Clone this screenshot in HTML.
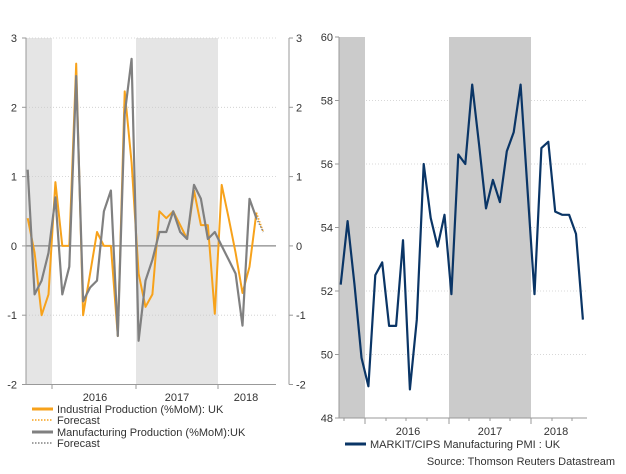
<!DOCTYPE html>
<html><head><meta charset="utf-8"><style>
body{margin:0;background:#fff;font-family:"Liberation Sans",Arial,sans-serif;}
svg text{font-family:"Liberation Sans",Arial,sans-serif;font-size:11px;fill:#333;}
</style></head><body>
<svg id="c" width="626" height="469" xmlns="http://www.w3.org/2000/svg"></svg>
<script>
const ipValues=[0.4,-0.1,-1.0,-0.7,0.92,0,0,2.63,-1.0,-0.4,0.2,0,0,-1.3,2.23,1.2,-0.4,-0.88,-0.7,0.5,0.4,0.5,0.3,0.1,0.8,0.3,0.3,-0.98,0.88,0.4,-0.1,-0.68,-0.3,0.48];
const ipForecast=[0.48,0.2];
const mpValues=[1.1,-0.7,-0.5,-0.1,0.7,-0.7,-0.3,2.45,-0.8,-0.6,-0.5,0.5,0.8,-1.3,1.9,2.7,-1.37,-0.5,-0.2,0.2,0.2,0.5,0.2,0.1,0.88,0.68,0.1,0.2,0.0,-0.2,-0.4,-1.15,0.68,0.4];
const mpForecast=[0.4,0.2];
const pmiValues=[52.2,54.2,52.2,49.9,49.0,52.5,52.9,50.9,50.9,53.6,48.9,51.1,56.0,54.3,53.4,54.4,51.9,56.3,56.0,58.5,56.6,54.6,55.5,54.8,56.4,57.0,58.5,55.2,51.9,56.5,56.7,54.5,54.4,54.4,53.8,51.1];
const leftTicks=[3,2,1,0,-1,-2];
const rightTicks=[60,58,56,54,52,50,48];
const yearLabels=["2016","2017","2018"];

const svg=document.getElementById('c');
const NS='http://www.w3.org/2000/svg';
function el(t,a,p){const e=document.createElementNS(NS,t);for(const k in a)e.setAttribute(k,a[k]);(p||svg).appendChild(e);return e;}

// left chart scales
const lx=i=>27.7+i*6.93, ly=v=>384.5-(v+2)/5*346.5;
// right chart scales
const rx=i=>340.7+i*6.92, ry=v=>418-(v-48)/12*381;

// shading
let s;
s=el('rect',{x:26,y:38,width:26,height:346.5,fill:'#e5e5e5'});
s=el('rect',{x:136,y:38,width:82,height:346.5,fill:'#e5e5e5'});
s=el('rect',{x:339,y:37,width:26,height:381,fill:'#cbcbcb'});
s=el('rect',{x:449,y:37,width:82,height:381,fill:'#cbcbcb'});

// left grid & ticks
leftTicks.forEach(v=>{
  const y=ly(v);
  let g=el('line',{x1:26,x2:276,y1:y,y2:y,stroke:v===0?'#888':'#ccc','stroke-width':v===0?1.2:0.8,'stroke-dasharray':v===0?'':'1,2'});
  
  let t=el('text',{x:17,y:y+4,'text-anchor':'end'});t.textContent=v;
  
  el('line',{x1:22,x2:26,y1:y,y2:y,stroke:'#999'});
  let t2=el('text',{x:296,y:y+4});t2.textContent=v;
  
  el('line',{x1:289,x2:293,y1:y,y2:y,stroke:'#999'});
});
el('line',{x1:26,x2:26,y1:38,y2:384.5,stroke:'#999'});
el('line',{x1:289,x2:289,y1:38,y2:384.5,stroke:'#999'});
el('line',{x1:26,x2:276,y1:384.5,y2:384.5,stroke:'#999'});
[52,136,218].forEach(x=>el('line',{x1:x,x2:x,y1:384.5,y2:389,stroke:'#999'}));
[[95,yearLabels[0]],[177,yearLabels[1]],[246,yearLabels[2]]].forEach(([x,l])=>{let t=el('text',{x:x,y:401,'text-anchor':'middle'});t.textContent=l;});

function poly(vals,xf,yf,off,attrs,name){
  const pts=vals.map((v,i)=>xf(i+off).toFixed(1)+','+yf(v).toFixed(1)).join(' ');
  const p=el('polyline',Object.assign({points:pts,fill:'none','stroke-linejoin':'round'},attrs));
  
}
poly(ipValues,lx,ly,0,{stroke:'#f7a21b','stroke-width':2},'industrial-production-line');
poly(mpValues,lx,ly,0,{stroke:'#808080','stroke-width':2.2},'manufacturing-production-line');
poly(ipForecast,lx,ly,33,{stroke:'#f7a21b','stroke-width':1.5,'stroke-dasharray':'1.5,1.5'},'industrial-production-forecast');
poly(mpForecast,lx,ly,33,{stroke:'#808080','stroke-width':1.5,'stroke-dasharray':'1.5,1.5'},'manufacturing-production-forecast');

// right grid
rightTicks.forEach(v=>{
  const y=ry(v);
  if(v!==48&&v!==60){let g=el('line',{x1:339,x2:587,y1:y,y2:y,stroke:'#ccc','stroke-width':0.8,'stroke-dasharray':'1,2'});}
  let t=el('text',{x:333,y:y+4,'text-anchor':'end'});t.textContent=v;
  
  el('line',{x1:335,x2:339,y1:y,y2:y,stroke:'#999'});
});
el('line',{x1:339,x2:339,y1:37,y2:418,stroke:'#999'});
el('line',{x1:339,x2:587,y1:418,y2:418,stroke:'#999'});
for(let i=0;i<12;i++){const x=344+i*20.7;const major=[365,449,531].some(m=>Math.abs(m-x)<4);}
[344,365,386,406,427,449,469,490,510,531,552,572].forEach(x=>el('line',{x1:x,x2:x,y1:418,y2:[365,449,531].includes(x)?424:421,stroke:'#999'}));
[[408,yearLabels[0]],[490,yearLabels[1]],[556,yearLabels[2]]].forEach(([x,l])=>{let t=el('text',{x:x,y:435,'text-anchor':'middle'});t.textContent=l;});
poly(pmiValues,rx,ry,0,{stroke:'#0a3566','stroke-width':2.2},'pmi-line');

// legends
const leg=[[413,'#f7a21b','','Industrial Production (%MoM): UK'],[424,'#f7a21b','1.5,1.5','Forecast'],[436,'#808080','','Manufacturing Production (%MoM):UK'],[447,'#808080','1.5,1.5','Forecast']];
leg.forEach(([y,c,d,l])=>{
  el('line',{x1:32,x2:53,y1:y-4,y2:y-4,stroke:c,'stroke-width':d?1.5:3,'stroke-dasharray':d});
  let t=el('text',{x:57,y:y});t.textContent=l;
});
el('line',{x1:345,x2:366,y1:444,y2:444,stroke:'#0a3566','stroke-width':3});
let t=el('text',{x:370,y:448});t.textContent='MARKIT/CIPS Manufacturing PMI : UK';
t=el('text',{x:615,y:465,'text-anchor':'end'});t.textContent='Source: Thomson Reuters Datastream';
</script>
</body></html>
